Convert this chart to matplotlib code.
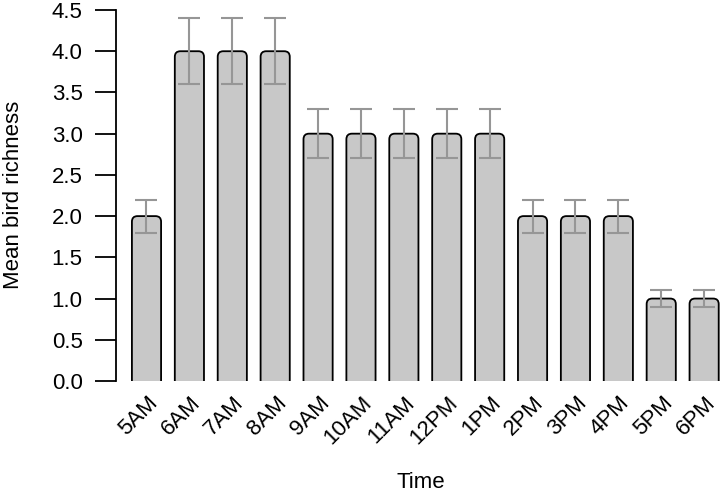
import matplotlib
matplotlib.use("Agg")
import matplotlib.pyplot as plt
from matplotlib.patches import FancyBboxPatch
import matplotlib.transforms as mtransforms

plt.rcParams['font.family'] = ['Liberation Sans', 'DejaVu Sans']

times = ["5AM", "6AM", "7AM", "8AM", "9AM", "10AM", "11AM", "12PM", "1PM",
         "2PM", "3PM", "4PM", "5PM", "6PM"]
richness = [2.0, 4.0, 4.0, 4.0, 3.0, 3.0, 3.0, 3.0, 3.0, 2.0, 2.0, 2.0, 1.0, 1.0]
se = [0.2, 0.4, 0.4, 0.4, 0.3, 0.3, 0.3, 0.3, 0.3, 0.2, 0.2, 0.2, 0.1, 0.1]

FS = 16
W, H = 720, 497
fig = plt.figure(figsize=(W / 100, H / 100), dpi=100)
ax = fig.add_axes([116 / W, (H - 381) / H, (720 - 116) / W, 371 / H])

x = list(range(len(times)))
bars = ax.bar(x, richness, width=0.68, color='#c8c8c8')
for r in bars:
    r.set_visible(False)
    bx, by, bw, bh = r.get_x(), r.get_y(), r.get_width(), r.get_height()
    p = FancyBboxPatch((bx, by - 0.3), bw, bh + 0.3,
                       boxstyle="round,pad=0,rounding_size=0.13",
                       mutation_aspect=0.52,
                       facecolor='#c8c8c8', edgecolor='black', linewidth=1.3,
                       clip_on=True, zorder=2)
    ax.add_patch(p)

ax.errorbar(x, richness, yerr=se, fmt='none', ecolor='#969696',
            elinewidth=1.5, capsize=8, capthick=1.5, zorder=3)

ax.set_xlim(-0.711, 13.37)
ax.set_ylim(0, 4.5)
ax.set_yticks([0, 0.5, 1, 1.5, 2, 2.5, 3, 3.5, 4, 4.5])
ax.set_yticklabels(["0.0", "0.5", "1.0", "1.5", "2.0", "2.5", "3.0", "3.5", "4.0", "4.5"])
ax.tick_params(axis='y', length=15, width=1.3, pad=9, labelsize=FS)
for s in ['top', 'right', 'bottom']:
    ax.spines[s].set_visible(False)
ax.spines['left'].set_linewidth(1.3)
ax.set_xticks([])

offset = mtransforms.ScaledTranslation(8 / 100, -19 / 100, fig.dpi_scale_trans)
for xi, lab in zip(x, times):
    ax.text(xi, 0, lab, rotation=45, ha='right', va='center',
            rotation_mode='anchor', fontsize=FS,
            transform=ax.transData + offset, clip_on=False)

fig.text(14 / W, 1 - 195 / H, "Mean bird richness", rotation=90,
         ha='center', va='center', fontsize=FS)
fig.text(421 / W, 1 - 482 / H, "Time", ha='center', va='center', fontsize=FS)

fig.savefig("out.png", dpi=100)
